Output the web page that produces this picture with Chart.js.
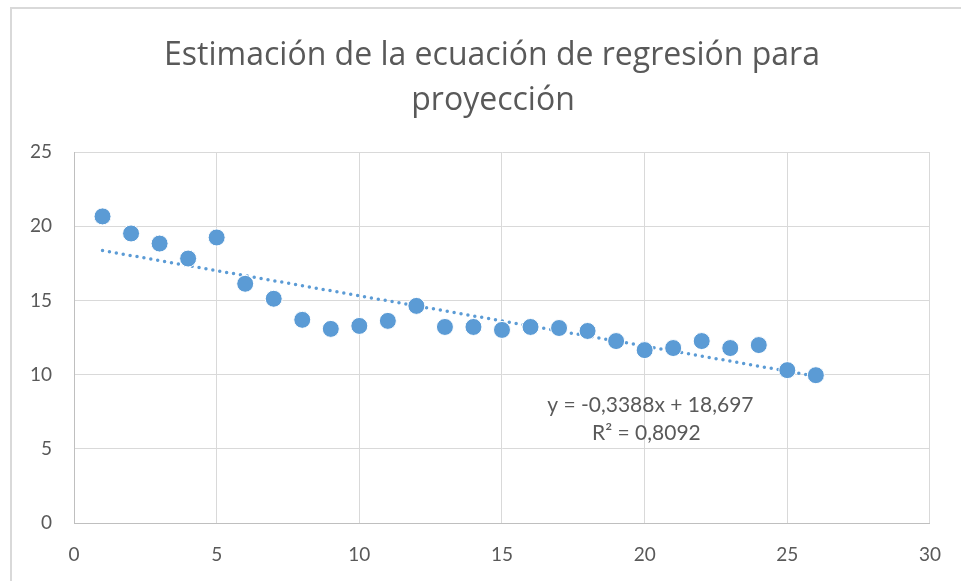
<!DOCTYPE html>
<html>
<head>
<meta charset="utf-8">
<script src="https://cdn.jsdelivr.net/npm/chart.js@4"></script>
<style>
  html, body { margin: 0; padding: 0; background: #fff; }
  #wrap { position: relative; width: 961px; height: 581px; }
</style>
</head>
<body>
<div id="wrap"><canvas id="chartRegresion" width="961" height="581"></canvas></div>
<script>
// datos
const periodos = [1, 2, 3, 4, 5, 6, 7, 8, 9, 10, 11, 12, 13, 14, 15, 16, 17, 18, 19, 20, 21, 22, 23, 24, 25, 26];
const valores = [20.66, 19.51, 18.83, 17.82, 19.24, 16.12, 15.11, 13.69, 13.08, 13.28, 13.62, 14.63, 13.21,
                 13.21, 13.01, 13.21, 13.14, 12.94, 12.26, 11.65, 11.79, 12.26, 11.79, 11.99, 10.30, 9.96];
const tendenciaX = [1, 26];
const tendenciaY = [18.36, 9.89];
const titulo = ['Estimación de la ecuación de regresión para', 'proyección'];
const ecuacion = ['y = -0,3388x + 18,697', 'R² = 0,8092'];

const FONT = 'Lato, "Open Sans", sans-serif';
const FONT_TITULO = '"Open Sans", Lato, sans-serif';
const GRIS = '#595959';
const AZUL = '#5B9BD5';

const puntos = periodos.map((x, i) => ({ x: x, y: valores[i] }));
const tendencia = tendenciaX.map((x, i) => ({ x: x, y: tendenciaY[i] }));

// borde, titulo y texto de la ecuacion
const extras = {
    id: 'extras',
    beforeDraw(chart) {
        const ctx = chart.ctx;
        ctx.save();
        ctx.strokeStyle = '#d9d9d9';
        ctx.lineWidth = 2;
        ctx.beginPath();
        ctx.moveTo(11, 581);
        ctx.lineTo(11, 8);
        ctx.lineTo(961, 8);
        ctx.stroke();

        // titulo centrado como en el original (un poco a la izquierda del area)
        ctx.fillStyle = GRIS;
        ctx.font = '32px ' + FONT_TITULO;
        ctx.textAlign = 'center';
        ctx.textBaseline = 'middle';
        ctx.fillText(titulo[0], 492, 56);
        ctx.fillText(titulo[1], 493, 101);
        ctx.restore();
    },
    afterDatasetsDraw(chart) {
        const ctx = chart.ctx;
        const xs = chart.scales.x, ys = chart.scales.y;
        const cx = xs.getPixelForValue(20.2);
        const cy = ys.getPixelForValue(7.95);
        ctx.save();
        ctx.fillStyle = GRIS;
        ctx.font = '21px ' + FONT;
        ctx.textAlign = 'center';
        ctx.textBaseline = 'middle';
        ctx.fillText(ecuacion[0], cx, cy);
        ctx.fillText(ecuacion[1], cx - 4, cy + 28);
        ctx.restore();
    }
};

const ctx = document.getElementById('chartRegresion').getContext('2d');
new Chart(ctx, {
    type: 'scatter',
    data: {
        datasets: [{
            label: 'Tendencia',
            type: 'line',
            data: tendencia,
            borderColor: AZUL,
            borderWidth: 3.5,
            borderDash: [0, 7],
            borderCapStyle: 'round',
            pointRadius: 0,
            fill: false,
            order: 2
        }, {
            label: 'Datos',
            data: puntos,
            backgroundColor: AZUL,
            borderColor: '#ffffff',
            borderWidth: 1,
            pointRadius: 8.5,
            pointHoverRadius: 8.5,
            order: 1
        }]
    },
    options: {
        responsive: false,
        animation: false,
        layout: { padding: { left: 0, right: 30, top: 152, bottom: 0 } },
        plugins: {
            legend: { display: false },
            tooltip: { enabled: false },
            title: { display: false }
        },
        scales: {
            x: {
                type: 'linear',
                min: 0, max: 30,
                ticks: { stepSize: 5, color: GRIS, font: { family: FONT, size: 19 }, padding: 20 },
                grid: { color: '#d9d9d9', drawTicks: false },
                border: { color: '#bfbfbf', width: 1 },
                afterFit(scale) { scale.height = 58; }
            },
            y: {
                min: 0, max: 25,
                ticks: { stepSize: 5, color: GRIS, font: { family: FONT, size: 19 }, padding: 22 },
                grid: { color: '#d9d9d9', drawTicks: false },
                border: { color: '#bfbfbf', width: 1 },
                afterFit(scale) { scale.width = 74; }
            }
        }
    },
    plugins: [extras]
});
</script>
</body>
</html>
